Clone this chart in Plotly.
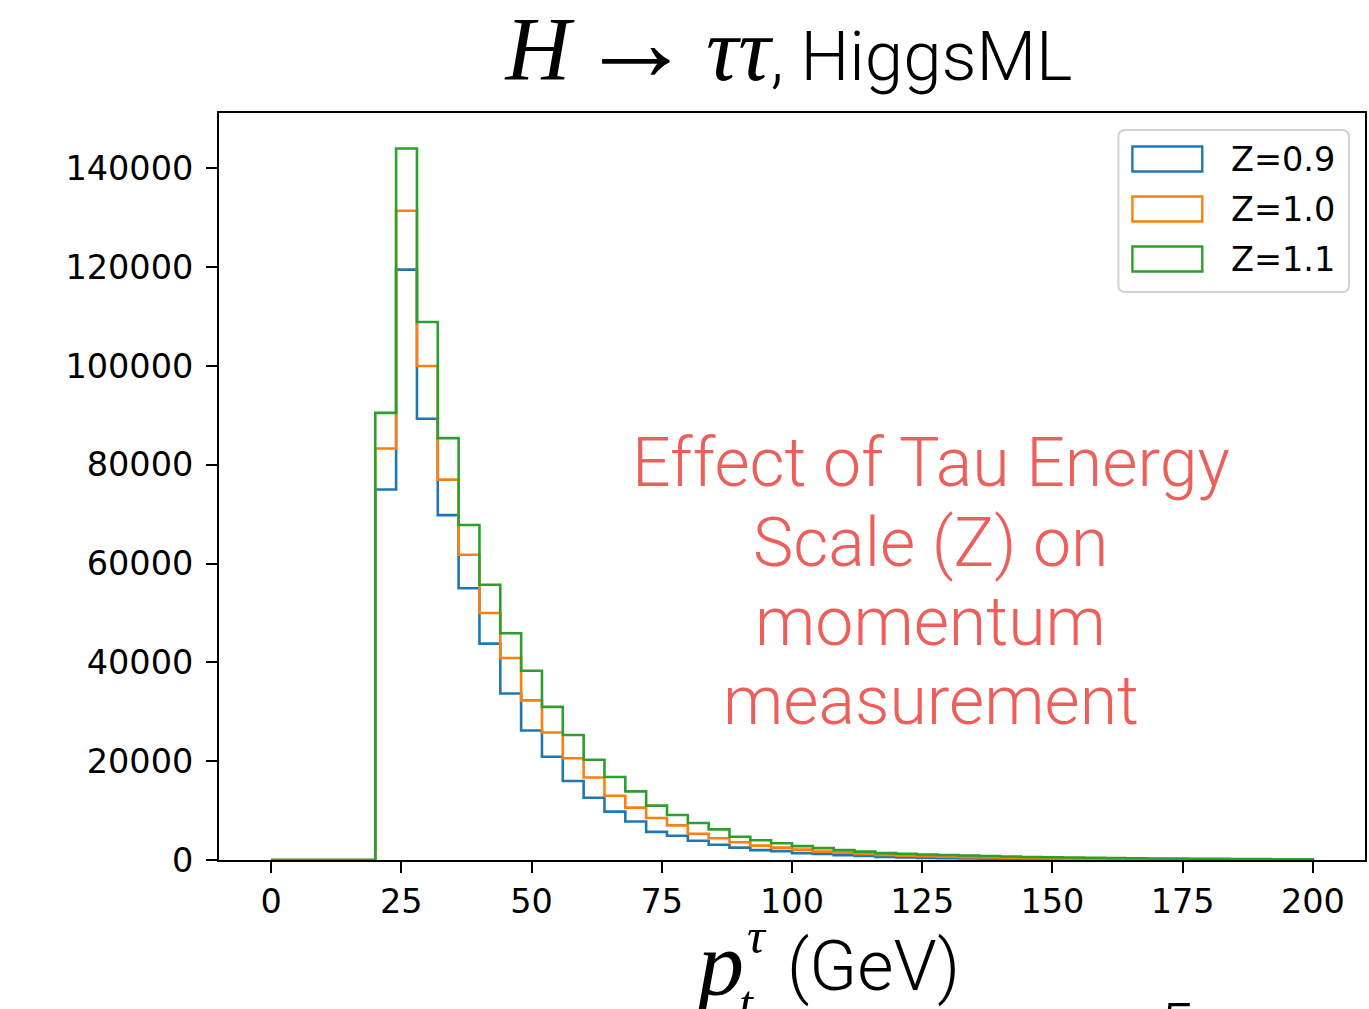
import plotly.graph_objects as go

# Histogram binning: 50 bins of 4 GeV between 0 and 200 GeV
bin_edges = list(range(0, 204, 4))

# Tau pT histogram counts per bin for three tau energy scales
counts_z09 = [0, 0, 0, 0, 0,
              75000, 119500, 89300, 69800, 55000, 43800, 33700, 26200, 20900, 16000,
              12600, 9800, 7800, 5700, 4900, 3900, 3100, 2500, 2000, 1800,
              1400, 1200, 950, 800, 600, 500, 420, 360, 310, 270,
              230, 200, 170, 150, 130, 110, 100, 90, 80, 70,
              60, 50, 50, 40, 40]
counts_z10 = [0, 0, 0, 0, 0,
              83300, 131400, 100000, 77000, 61800, 50000, 40900, 32300, 25800, 20600,
              16700, 13000, 10600, 8500, 7000, 5300, 4400, 3600, 2900, 2500,
              2100, 1700, 1500, 1200, 1000, 850, 750, 650, 550, 500,
              420, 370, 320, 280, 250, 220, 190, 170, 150, 130,
              120, 100, 90, 80, 70]
counts_z11 = [0, 0, 0, 0, 0,
              90500, 144000, 108900, 85400, 67800, 55700, 45900, 38300, 31000, 25300,
              20300, 16800, 13900, 11000, 9100, 7500, 6200, 4700, 4000, 3400,
              2800, 2400, 2000, 1700, 1400, 1250, 1100, 1000, 900, 800,
              700, 600, 550, 500, 450, 400, 350, 300, 300, 250,
              220, 200, 180, 150, 130]

series_labels = ["Z=0.9", "Z=1.0", "Z=1.1"]
series_counts = [counts_z09, counts_z10, counts_z11]
series_colors = ["#1f77b4", "#ff7f0e", "#2ca02c"]

x_ticks = [0, 25, 50, 75, 100, 125, 150, 175, 200]
y_ticks = [0, 20000, 40000, 60000, 80000, 100000, 120000, 140000]

annotation_lines = ["Effect of Tau Energy", "Scale (Z) on", "momentum", "measurement"]

W, H = 1369, 1009
ML, MR, MT, MB = 219, 2, 113, 149
PW, PH = W - ML - MR, H - MT - MB


def px(xpix):
    return (xpix - ML) / PW


def py(ypix):
    return (H - MB - ypix) / PH


fig = go.Figure()

# Step outlines (matplotlib histtype='step' style)
for label, counts, color in zip(series_labels, series_counts, series_colors):
    xs = [bin_edges[0]] + bin_edges[:-1] + [bin_edges[-1], bin_edges[-1]]
    ys = [0] + counts + [counts[-1], 0]
    fig.add_trace(go.Scatter(
        x=xs, y=ys, mode="lines", name=label,
        line=dict(color=color, width=2.6, shape="hv"),
        showlegend=False, hoverinfo="skip",
    ))

tick_font = dict(family="DejaVu Sans", size=33.5, color="black")
y_top = max(max(c) for c in series_counts) * 1.05
x_lo, x_hi = bin_edges[0], bin_edges[-1]
x_pad = (x_hi - x_lo) * 0.05

fig.update_xaxes(
    range=[x_lo - x_pad, x_hi + x_pad], tickvals=x_ticks,
    ticks="outside", ticklen=11, tickwidth=2, tickcolor="black",
    showline=True, linewidth=2, linecolor="black", mirror=True,
    showgrid=False, zeroline=False, tickfont=tick_font,
)
fig.update_yaxes(
    range=[0, y_top], tickvals=y_ticks, tickformat="d",
    ticks="outside", ticklen=11, tickwidth=2, tickcolor="black",
    showline=True, linewidth=2, linecolor="black", mirror=True,
    showgrid=False, zeroline=False, tickfont=tick_font, ticklabelstandoff=6,
)

serif = "font-family:Liberation Serif"
title_text = (
    f'<span style="{serif};font-size:90px"><i>H</i>'
    f'<span style="font-size:34px"> </span>'
    f'<span style="font-size:114px">→</span>'
    f'<span style="font-size:52px"> </span><i>ττ</i></span>, HiggsML'
)

annotations = []
shapes = []

# Red explanatory text block
line_y = [463, 543, 622, 701]
for txt, yy in zip(annotation_lines, line_y):
    annotations.append(dict(
        text=txt, x=px(932), y=py(yy), xref="paper", yref="paper",
        xanchor="center", yanchor="middle", showarrow=False,
        font=dict(family="Roboto", size=68, color="#EC5F5B", weight=300),
    ))

# Axis label p_t^tau (GeV)
annotations += [
    dict(text="<i>p</i>", x=px(719), y=py(964), xref="paper", yref="paper",
         xanchor="center", yanchor="middle", showarrow=False,
         font=dict(family="Liberation Serif", size=92, color="black")),
    dict(text="<i>τ</i>", x=px(758), y=py(936), xref="paper", yref="paper",
         xanchor="center", yanchor="middle", showarrow=False,
         font=dict(family="Liberation Serif", size=50, color="black")),
    dict(text="<i>t</i>", x=px(747), y=py(1003), xref="paper", yref="paper",
         xanchor="center", yanchor="middle", showarrow=False,
         font=dict(family="Liberation Serif", size=50, color="black")),
    dict(text="(GeV)", x=px(875), y=py(966), xref="paper", yref="paper",
         xanchor="center", yanchor="middle", showarrow=False,
         font=dict(family="Roboto", size=70, color="black", weight=300)),
    dict(text="5", x=px(1178), y=py(1024), xref="paper", yref="paper",
         xanchor="center", yanchor="middle", showarrow=False,
         font=dict(family="Roboto", size=60, color="black", weight=300)),
]

# Legend box drawn with shapes: rounded frame, outlined patches and labels
fx0, fx1, fy0, fy1, r = 1120, 1351, 130, 292, 7
frame_path = (
    f"M {px(fx0 + r)},{py(fy0)} L {px(fx1 - r)},{py(fy0)} "
    f"Q {px(fx1)},{py(fy0)} {px(fx1)},{py(fy0 + r)} "
    f"L {px(fx1)},{py(fy1 - r)} Q {px(fx1)},{py(fy1)} {px(fx1 - r)},{py(fy1)} "
    f"L {px(fx0 + r)},{py(fy1)} Q {px(fx0)},{py(fy1)} {px(fx0)},{py(fy1 - r)} "
    f"L {px(fx0)},{py(fy0 + r)} Q {px(fx0)},{py(fy0)} {px(fx0 + r)},{py(fy0)} Z"
)
shapes.append(dict(type="path", path=frame_path, xref="paper", yref="paper",
                   line=dict(color="rgba(204,204,204,0.9)", width=2),
                   fillcolor="rgba(255,255,255,0.8)", layer="above"))

row_centers = [159, 209, 259]
for label, color, yc in zip(series_labels, series_colors, row_centers):
    shapes.append(dict(type="rect", xref="paper", yref="paper",
                       x0=px(1134), x1=px(1204), y0=py(yc - 12.5), y1=py(yc + 12.5),
                       line=dict(color=color, width=2.4), fillcolor="white",
                       layer="above"))
    annotations.append(dict(text=label, x=px(1231), y=py(yc), xref="paper", yref="paper",
                            xanchor="left", yanchor="middle", showarrow=False,
                            font=dict(family="DejaVu Sans", size=33.5, color="black")))

fig.update_layout(
    width=W, height=H,
    margin=dict(l=ML, r=MR, t=MT, b=MB),
    paper_bgcolor="white", plot_bgcolor="white",
    title=dict(text=title_text, x=789 / W, y=1 - 56 / H, xref="container", yref="container",
               xanchor="center", yanchor="middle",
               font=dict(family="Roboto", size=69, color="black", weight=300)),
    annotations=annotations, shapes=shapes,
    showlegend=False,
)

fig.write_html("out.html")
